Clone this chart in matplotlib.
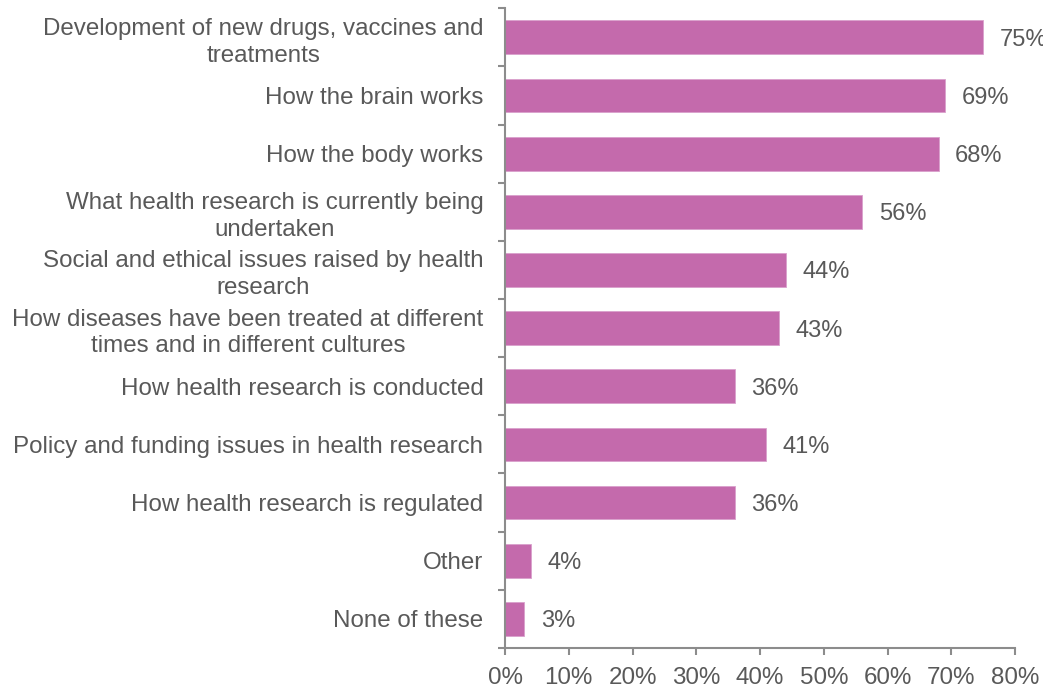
import matplotlib.pyplot as plt
import numpy as np

plt.rcParams["font.family"] = ["Liberation Sans", "DejaVu Sans"]

categories = [
    "Development of new drugs, vaccines and\ntreatments",
    "How the brain works",
    "How the body works",
    "What health research is currently being\nundertaken",
    "Social and ethical issues raised by health\nresearch",
    "How diseases have been treated at different\ntimes and in different cultures",
    "How health research is conducted",
    "Policy and funding issues in health research",
    "How health research is regulated",
    "Other",
    "None of these",
]
values = [75, 69, 68, 56, 44, 43, 36, 41, 36, 4, 3]
xticks = [0, 10, 20, 30, 40, 50, 60, 70, 80]

bar_color = "#C46AAC"
text_color = "#595959"
axis_color = "#8C8C8C"

fig = plt.figure(figsize=(10.43, 6.9), dpi=100)
ax = fig.add_axes([0.4842, 0.061, 0.4890, 0.927])

y = np.arange(len(categories))
ax.barh(y, values, height=0.58, color=bar_color, edgecolor="#D9A0CC", linewidth=0.6)
for yi, v in zip(y, values):
    ax.text(v + 2.6, yi, f"{v}%", va="center_baseline", ha="left",
            fontsize=17, color=text_color)

ax.set_ylim(len(categories) - 0.5, -0.5)
ax.set_xlim(0, 80)
ax.set_yticks(y)
ax.set_yticklabels(categories, fontsize=17.4, color=text_color, ha="right",
                   multialignment="center", linespacing=1.28)
ax.set_yticks(np.arange(len(categories) + 1) - 0.5, minor=True)
ax.tick_params(axis="y", which="major", length=0, pad=15.5)
ax.tick_params(axis="y", which="minor", length=5, width=1.5, color=axis_color, direction="out")
ax.set_xticks(xticks)
ax.set_xticklabels([f"{t}%" for t in xticks], fontsize=17.4, color=text_color)
ax.tick_params(axis="x", length=5, width=1.5, color=axis_color, pad=9)

for side in ["top", "right"]:
    ax.spines[side].set_visible(False)
for side in ["left", "bottom"]:
    ax.spines[side].set_color(axis_color)
    ax.spines[side].set_linewidth(1.5)

fig.savefig("out.png", dpi=100)
